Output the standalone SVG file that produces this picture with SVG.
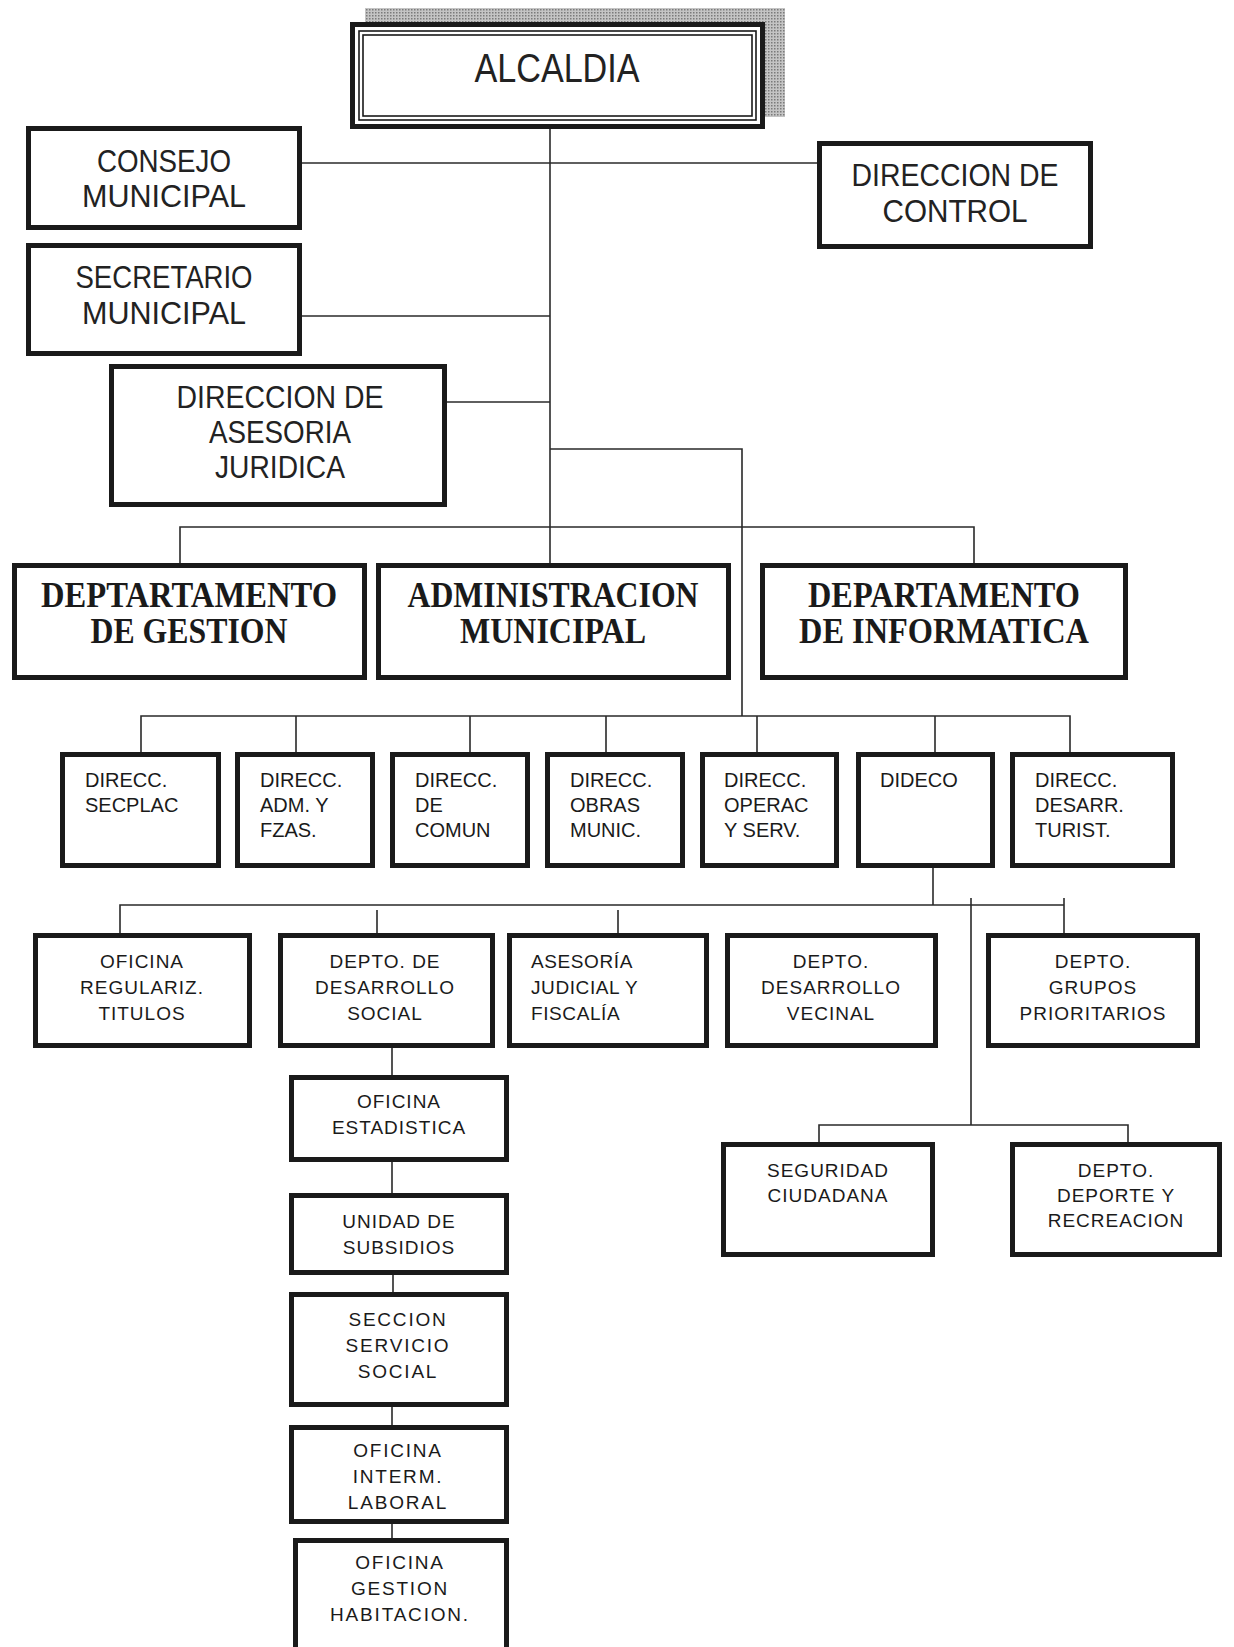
<svg xmlns="http://www.w3.org/2000/svg" width="1234" height="1647" viewBox="0 0 1234 1647">
<defs>
<pattern id="dots" width="3" height="3" patternUnits="userSpaceOnUse">
<rect width="3" height="3" fill="#c4c4c4"/>
<rect width="1.5" height="1.5" fill="#7a7a7a"/>
</pattern>
</defs>
<style>
.box{fill:#fff;stroke:#1a1a1a;stroke-width:5}
.thin{fill:none;stroke:#1a1a1a;stroke-width:1.6}
.ln{fill:none;stroke:#2a2a2a;stroke-width:1.6}
.t1{font-family:"Liberation Sans",Arial,sans-serif;font-size:31px;fill:#222;text-anchor:middle}
.t0{font-family:"Liberation Sans",Arial,sans-serif;font-size:40px;fill:#222;text-anchor:middle}
.t3{font-family:"Liberation Serif","Times New Roman",serif;font-weight:bold;font-size:35px;fill:#1a1a1a;text-anchor:middle}
.t4{font-family:"Liberation Sans",Arial,sans-serif;font-size:20px;fill:#1a1a1a}
.t5{font-family:"Liberation Sans",Arial,sans-serif;font-size:19px;fill:#1a1a1a;text-anchor:middle;letter-spacing:1px}
.t6{font-family:"Liberation Sans",Arial,sans-serif;font-size:19px;fill:#1a1a1a;text-anchor:middle;letter-spacing:1.8px}
.t5l{font-family:"Liberation Sans",Arial,sans-serif;font-size:19px;fill:#1a1a1a;letter-spacing:0.6px}
</style>
<rect width="1234" height="1647" fill="#fff"/>

<g id="connectors">
<path class="ln" d="M550,129 V563"/>
<path class="ln" d="M302,163 H817"/>
<path class="ln" d="M302,316 H550"/>
<path class="ln" d="M447,402 H550"/>
<path class="ln" d="M550,449 H742 V716"/>
<path class="ln" d="M180,563 V527 H974 V563"/>
<path class="ln" d="M141,752 V716 H1070 V752"/>
<path class="ln" d="M296,716 V752 M470,716 V752 M606,716 V752 M757,716 V752 M935,716 V752"/>
<path class="ln" d="M933,868 V905"/>
<path class="ln" d="M120,933 V905 H1064"/>
<path class="ln" d="M1064,898 V933"/>
<path class="ln" d="M377,910 V933 M618,910 V933"/>
<path class="ln" d="M971,898 V1125"/>
<path class="ln" d="M819,1142 V1125 H1128 V1142"/>
<path class="ln" d="M392,1048 V1075 M392,1162 V1193 M393,1275 V1292 M392,1407 V1425 M392,1524 V1538"/>
</g>

<g id="alcaldia">
<rect x="365" y="8" width="420" height="109" fill="url(#dots)"/>
<rect class="box" x="352.5" y="24.5" width="410" height="102"/>
<rect class="thin" x="359" y="31" width="397" height="89"/>
<rect class="thin" x="363" y="35" width="389" height="81"/>
<text class="t0" x="557" y="82" textLength="165" lengthAdjust="spacingAndGlyphs">ALCALDIA</text>
</g>

<g id="consejo">
<rect class="box" x="28.5" y="128.5" width="271" height="99"/>
<text class="t1" x="164" y="172" textLength="134" lengthAdjust="spacingAndGlyphs">CONSEJO</text>
<text class="t1" x="164" y="207" textLength="164" lengthAdjust="spacingAndGlyphs">MUNICIPAL</text>
</g>

<g id="control">
<rect class="box" x="819.5" y="143.5" width="271" height="103"/>
<text class="t1" x="955" y="186" textLength="207" lengthAdjust="spacingAndGlyphs">DIRECCION DE</text>
<text class="t1" x="955" y="222" textLength="145" lengthAdjust="spacingAndGlyphs">CONTROL</text>
</g>

<g id="secretario">
<rect class="box" x="28.5" y="245.5" width="271" height="108"/>
<text class="t1" x="164" y="288" textLength="177" lengthAdjust="spacingAndGlyphs">SECRETARIO</text>
<text class="t1" x="164" y="324" textLength="164" lengthAdjust="spacingAndGlyphs">MUNICIPAL</text>
</g>

<g id="juridica">
<rect class="box" x="111.5" y="366.5" width="333" height="138"/>
<text class="t1" x="280" y="408" textLength="207" lengthAdjust="spacingAndGlyphs">DIRECCION DE</text>
<text class="t1" x="280" y="443" textLength="142" lengthAdjust="spacingAndGlyphs">ASESORIA</text>
<text class="t1" x="280" y="478" textLength="130" lengthAdjust="spacingAndGlyphs">JURIDICA</text>
</g>

<g id="gestion">
<rect class="box" x="14.5" y="565.5" width="350" height="112"/>
<text class="t3" x="189" y="607" textLength="296" lengthAdjust="spacingAndGlyphs">DEPTARTAMENTO</text>
<text class="t3" x="189" y="643" textLength="197" lengthAdjust="spacingAndGlyphs">DE GESTION</text>
</g>

<g id="administracion">
<rect class="box" x="378.5" y="565.5" width="350" height="112"/>
<text class="t3" x="553" y="607" textLength="291" lengthAdjust="spacingAndGlyphs">ADMINISTRACION</text>
<text class="t3" x="553" y="643" textLength="186" lengthAdjust="spacingAndGlyphs">MUNICIPAL</text>
</g>

<g id="informatica">
<rect class="box" x="762.5" y="565.5" width="363" height="112"/>
<text class="t3" x="944" y="607" textLength="272" lengthAdjust="spacingAndGlyphs">DEPARTAMENTO</text>
<text class="t3" x="944" y="643" textLength="290" lengthAdjust="spacingAndGlyphs">DE INFORMATICA</text>
</g>

<g id="secplac">
<rect class="box" x="62.5" y="754.5" width="156" height="111"/>
<text class="t4" x="85" y="787">DIRECC.</text>
<text class="t4" x="85" y="812">SECPLAC</text>
</g>
<g id="admfzas">
<rect class="box" x="237.5" y="754.5" width="135" height="111"/>
<text class="t4" x="260" y="787">DIRECC.</text>
<text class="t4" x="260" y="812">ADM. Y</text>
<text class="t4" x="260" y="837">FZAS.</text>
</g>
<g id="comun">
<rect class="box" x="392.5" y="754.5" width="135" height="111"/>
<text class="t4" x="415" y="787">DIRECC.</text>
<text class="t4" x="415" y="812">DE</text>
<text class="t4" x="415" y="837">COMUN</text>
</g>
<g id="obras">
<rect class="box" x="547.5" y="754.5" width="135" height="111"/>
<text class="t4" x="570" y="787">DIRECC.</text>
<text class="t4" x="570" y="812">OBRAS</text>
<text class="t4" x="570" y="837">MUNIC.</text>
</g>
<g id="operac">
<rect class="box" x="702.5" y="754.5" width="134" height="111"/>
<text class="t4" x="724" y="787">DIRECC.</text>
<text class="t4" x="724" y="812">OPERAC</text>
<text class="t4" x="724" y="837">Y SERV.</text>
</g>
<g id="dideco">
<rect class="box" x="858.5" y="754.5" width="134" height="111"/>
<text class="t4" x="880" y="787">DIDECO</text>
</g>
<g id="turist">
<rect class="box" x="1012.5" y="754.5" width="160" height="111"/>
<text class="t4" x="1035" y="787">DIRECC.</text>
<text class="t4" x="1035" y="812">DESARR.</text>
<text class="t4" x="1035" y="837">TURIST.</text>
</g>

<g id="titulos">
<rect class="box" x="35.5" y="935.5" width="214" height="110"/>
<text class="t5" x="142" y="968">OFICINA</text>
<text class="t5" x="142" y="994">REGULARIZ.</text>
<text class="t5" x="142" y="1020">TITULOS</text>
</g>
<g id="desarrollo-social">
<rect class="box" x="280.5" y="935.5" width="212" height="110"/>
<text class="t5" x="385" y="968">DEPTO. DE</text>
<text class="t5" x="385" y="994">DESARROLLO</text>
<text class="t5" x="385" y="1020">SOCIAL</text>
</g>
<g id="asesoria-judicial">
<rect class="box" x="509.5" y="935.5" width="197" height="110"/>
<text class="t5l" x="531" y="968">ASESORÍA</text>
<text class="t5l" x="531" y="994">JUDICIAL Y</text>
<text class="t5l" x="531" y="1020">FISCALÍA</text>
</g>
<g id="vecinal">
<rect class="box" x="727.5" y="935.5" width="208" height="110"/>
<text class="t5" x="831" y="968">DEPTO.</text>
<text class="t5" x="831" y="994">DESARROLLO</text>
<text class="t5" x="831" y="1020">VECINAL</text>
</g>
<g id="prioritarios">
<rect class="box" x="988.5" y="935.5" width="209" height="110"/>
<text class="t5" x="1093" y="968">DEPTO.</text>
<text class="t5" x="1093" y="994">GRUPOS</text>
<text class="t5" x="1093" y="1020">PRIORITARIOS</text>
</g>

<g id="seguridad">
<rect class="box" x="723.5" y="1144.5" width="209" height="110"/>
<text class="t5" x="828" y="1177">SEGURIDAD</text>
<text class="t5" x="828" y="1202">CIUDADANA</text>
</g>
<g id="deporte">
<rect class="box" x="1012.5" y="1144.5" width="207" height="110"/>
<text class="t5" x="1116" y="1177">DEPTO.</text>
<text class="t5" x="1116" y="1202">DEPORTE Y</text>
<text class="t5" x="1116" y="1227">RECREACION</text>
</g>

<g id="estadistica">
<rect class="box" x="291.5" y="1077.5" width="215" height="82"/>
<text class="t5" x="399" y="1108">OFICINA</text>
<text class="t5" x="399" y="1134">ESTADISTICA</text>
</g>
<g id="subsidios">
<rect class="box" x="291.5" y="1195.5" width="215" height="77"/>
<text class="t5" x="399" y="1228">UNIDAD DE</text>
<text class="t5" x="399" y="1254">SUBSIDIOS</text>
</g>
<g id="servicio-social">
<rect class="box" x="291.5" y="1294.5" width="215" height="110"/>
<text class="t6" x="398" y="1326">SECCION</text>
<text class="t6" x="398" y="1352">SERVICIO</text>
<text class="t6" x="398" y="1378">SOCIAL</text>
</g>
<g id="intermediacion">
<rect class="box" x="291.5" y="1427.5" width="215" height="94"/>
<text class="t6" x="398" y="1457">OFICINA</text>
<text class="t6" x="398" y="1483">INTERM.</text>
<text class="t6" x="398" y="1509">LABORAL</text>
</g>
<g id="habitacion">
<rect class="box" x="295.5" y="1540.5" width="211" height="130"/>
<text class="t6" x="400" y="1569">OFICINA</text>
<text class="t6" x="400" y="1595">GESTION</text>
<text class="t6" x="400" y="1621">HABITACION.</text>
</g>
</svg>
